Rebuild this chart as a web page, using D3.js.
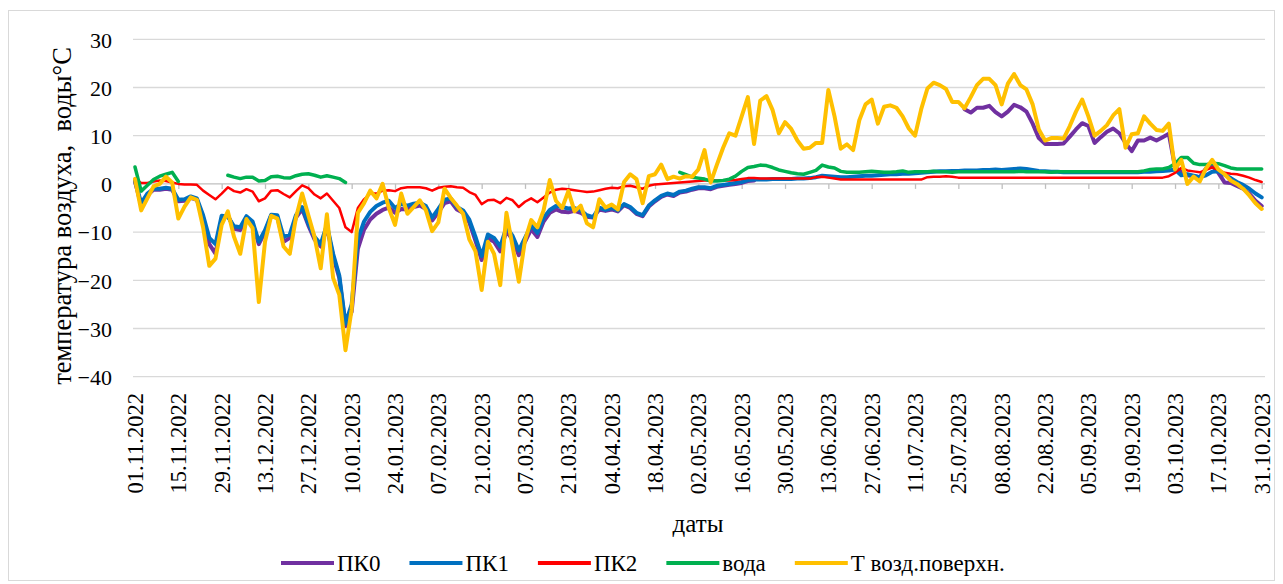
<!DOCTYPE html>
<html>
<head>
<meta charset="utf-8">
<script src="https://cdn.jsdelivr.net/npm/d3@7"></script>
<style>
  body { margin: 0; background: #fff; }
</style>
</head>
<body>
<svg id="chart" width="1283" height="584"></svg>
<script>
// readings every 2 days from 01.11.2022 (last point = 31.10.2023)
const startDate = "2022-11-01";
const stepDays = 2;
const lastDay = 364;

const seriesNames = ["ПК0", "ПК1", "ПК2", "вода", "Т возд.поверхн."];
const seriesColors = ["#7030A0", "#0070C0", "#FF0000", "#00B050", "#FFC000"];

const pk0 = [
  0.5, -4.5, -2.3, -1.2, -1.2, -1, -1.2, -3.6, -3.5, -2.9,
  -3.3, -7, -12.5, -14.5, -7.2, -6.5, -9.3, -9.6, -7, -8.3,
  -12.5, -10, -6.6, -6.9, -12, -11.2, -7, -5.2, -8.6, -11.5,
  -13, -9, -15, -19.5, -29.5, -26.5, -13.5, -9.5, -7.4, -6.2,
  -5.4, -4.9, -6, -5.2, -5.3, -4.8, -4.5, -5.2, -7.6, -5.9,
  -4, -3.6, -5.3, -6, -8, -11.8, -15.8, -11.3, -12, -14,
  -9.8, -11.6, -14.8, -12, -9.4, -11, -7.8, -6, -5.3, -5.8,
  -5.9, -5.6, -6, -6.8, -7, -5.3, -5.6, -5.3, -5.7, -4.4,
  -5, -6.2, -6.7, -4.7, -3.6, -2.7, -2.2, -2.5, -1.8, -1.6,
  -1.2, -0.9, -0.9, -1.1, -0.6, -0.4, -0.2, 0, 0.2, 0.6,
  0.7, null, null, null, null, null, null, null, null, null,
  null, null, null, null, null, null, null, null, null, null,
  null, null, null, null, null, null, null, null, null, null,
  null, null, null, null, 15.5, 14.8, 15.8, 15.8, 16.2, 14.9,
  14, 15, 16.4, 15.9, 15, 12.5, 9.5, 8.3, 8.3, 8.3,
  8.4, 9.8, 11.3, 12.6, 12, 8.5, 9.7, 10.8, 11.5, 10.5,
  8.5, 6.8, 9, 9, 9.6, 9, 9.7, 10.4, 3.5, 2.5,
  1.8, 1.6, 1.4, 3.2, 3.8, 2.3, 0.3, 0.2, -0.4, -1,
  -2, -3.5, -4.6
];

const pk1 = [
  0.7, -4, -2, -1, -1, -0.8, -1, -3.3, -3.2, -2.6,
  -3, -6.5, -11.2, -12.5, -6.6, -6.8, -8.8, -9, -6.7, -7.8,
  -12, -9.6, -6.4, -6.5, -11, -10.5, -6.5, -4.8, -8.2, -11,
  -12.5, -8.5, -14.5, -19, -29, -25, -11.5, -7.8, -5.8, -4.6,
  -3.9, -3.5, -5, -4.2, -4.5, -4.1, -3.9, -4.6, -7, -5.2,
  -3.3, -3, -4.8, -5.5, -7.4, -11, -15, -10.5, -11.2, -13,
  -9, -10.8, -13.8, -11.2, -8.6, -10.2, -7, -5.4, -4.6, -4.8,
  -5.1, -5, -5.5, -6.5, -6.9, -4.9, -5.4, -5, -5.5, -4.2,
  -4.8, -6, -6.5, -4.5, -3.4, -2.5, -2, -2.3, -1.6, -1.4,
  -1, -0.7, -0.7, -0.9, -0.4, -0.2, 0, 0.2, 0.4, 0.8,
  0.9, 0.9, 0.9, 1, 1, 1, 1, 1.1, 1.1, 1.2,
  1.4, 1.7, 1.6, 1.5, 1.4, 1.4, 1.5, 1.6, 1.7, 1.7,
  1.8, 1.9, 2, 2, 2.1, 2.1, 2.2, 2.3, 2.4, 2.5,
  2.6, 2.6, 2.7, 2.7, 2.8, 2.8, 2.8, 2.9, 2.9, 3,
  2.9, 3, 3.1, 3.2, 3.1, 2.9, 2.7, 2.6, 2.5, 2.5,
  2.4, 2.4, 2.4, 2.4, 2.4, 2.4, 2.4, 2.4, 2.4, 2.4,
  2.4, 2.4, 2.4, 2.5, 2.5, 2.6, 2.7, 2.8, 3, 1.8,
  2, 1.7, 1.4, 1.8, 2.5, 2.6, 1.9, 1.2, 0.4, -0.2,
  -1, -2, -2.8
];

const pk2 = [
  1.1, 0.2, 0.2, 0.5, 0.7, 0.6, 0.3, 0, -0.1, -0.1,
  -0.2, -1.4, -2.3, -3.2, -2, -0.7, -1.5, -1.8, -1.1, -1.6,
  -3.6, -3, -1.4, -1.3, -2.1, -2.8, -1.5, -0.3, -0.9, -2.2,
  -3, -2, -3.5, -5, -9, -10, -5, -3.2, -2, -2,
  -1.4, -1.3, -1.5, -0.9, -0.7, -0.7, -0.7, -0.9, -1.4, -0.8,
  -0.6, -0.5, -0.7, -0.8, -1.7, -2.3, -4.2, -3.4, -3.3, -4,
  -2.9, -3.4, -4.8, -3.7, -3, -3.8, -2.8, -1.8, -1.2, -1,
  -1.1, -1.3, -1.5, -1.7, -1.6, -1.3, -1, -0.8, -0.9, -0.5,
  -0.4, -0.7, -1, -0.4, -0.1, 0, 0.1, 0.2, 0.3, 0.4,
  0.5, 0.6, 0.7, 0.7, 0.7, 0.7, 0.7, 0.8, 1, 1.2,
  1.2, 1.1, 1.1, 1.1, 1.1, 1.1, 1.1, 1.1, 1.1, 1.1,
  1.4, 1.5, 1.3, 1.1, 0.9, 0.9, 0.9, 0.9, 0.9, 0.9,
  0.9, 0.9, 0.9, 0.9, 0.9, 0.9, 0.9, 0.9, 1.4, 1.5,
  1.5, 1.6, 1.5, 1.3, 1.3, 1.3, 1.3, 1.3, 1.3, 1.3,
  1.3, 1.3, 1.3, 1.3, 1.3, 1.3, 1.3, 1.3, 1.3, 1.3,
  1.3, 1.3, 1.3, 1.3, 1.3, 1.3, 1.3, 1.3, 1.3, 1.3,
  1.3, 1.3, 1.3, 1.3, 1.3, 1.3, 1.3, 1.6, 2.3, 3.3,
  2.8, 2.6, 2.4, 2.9, 3.4, 2.9, 2.3, 2.1, 2, 1.7,
  1.3, 0.8, 0.4
];

const water = [
  3.5, -1.5, -0.3, 0.9, 1.6, 2, 2.4, 0.5, null, null,
  null, null, null, null, null, 1.8, 1.4, 1.1, 1.4, 1.4,
  0.6, 0.7, 1.5, 1.6, 1.3, 1.2, 1.7, 2, 2.1, 1.8,
  1.4, 1.7, 1.4, 1.1, 0.3, null, null, null, null, null,
  null, null, null, null, null, null, null, null, null, null,
  null, null, null, null, null, null, null, null, null, null,
  null, null, null, null, null, null, null, null, null, null,
  null, null, null, null, null, null, null, null, null, null,
  null, null, null, null, null, null, null, null, 2.4, 1.9,
  1.4, 1.2, 1, 0.6, 0.6, 0.7, 1, 1.6, 2.6, 3.4,
  3.6, 3.9, 3.8, 3.4, 2.9, 2.6, 2.3, 2.1, 2, 2.4,
  2.8, 3.9, 3.5, 3.3, 2.6, 2.4, 2.4, 2.4, 2.5, 2.6,
  2.5, 2.4, 2.4, 2.5, 2.7, 2.4, 2.5, 2.5, 2.5, 2.6,
  2.5, 2.5, 2.4, 2.5, 2.5, 2.5, 2.5, 2.5, 2.5, 2.5,
  2.5, 2.5, 2.5, 2.6, 2.5, 2.5, 2.5, 2.5, 2.4, 2.5,
  2.5, 2.5, 2.5, 2.5, 2.5, 2.5, 2.5, 2.5, 2.5, 2.5,
  2.5, 2.5, 2.5, 2.7, 3, 3.1, 3.1, 3.4, 4.2, 5.5,
  5.5, 4.3, 4, 4, 4.3, 4.2, 3.8, 3.3, 3.1, 3.1,
  3.1, 3.1, 3.1
];

const airSurface = [
  1.0, -5.5, -3, -0.5, 0, 1.5, 0.3, -7.2, -4.7, -2.8,
  -3.3, -9, -17, -15.5, -8.5, -5.7, -11, -14.5, -7.3, -9.2,
  -24.5, -12, -6.6, -7.2, -13, -14.5, -7, -2, -6.5, -11,
  -17.5, -6.3, -19.5, -23, -34.5, -26, -6, -4, -1.4, -3,
  0, -5, -8.5, -2, -6.2, -4.8, -3.4, -5.5, -9.8, -8,
  -1, -2.9, -4.5, -6.2, -11.5, -14, -22, -12, -14.5, -21,
  -6, -13, -20.3, -11.7, -7.5, -9, -5.5, 0.8, -3.5, -5,
  -1.5, -5.7, -4.5, -8.2, -9, -3.2, -4.9, -4.3, -5.3, 0.4,
  2, 1, -4, 1.6, 2, 4, 1, 1.5, 1.1, 1.6,
  1.5, 3, 7, 0.3, 4, 7.5, 10.5, 10, 14, 18,
  8.3, 17.3, 18.2, 15.3, 10.5, 12.8, 11.4, 9, 7.3, 7.5,
  8.5, 8.5, 19.5, 14, 7.3, 8.2, 7, 13.2, 16.5, 17.5,
  12.5, 16, 16.3, 15.8, 14, 11.5, 10, 15.5, 19.8, 21,
  20.5, 19.7, 17, 17, 15.7, 18, 20.5, 21.8, 21.8, 20.5,
  16.5, 20.8, 22.8, 20.5, 19.6, 16.5, 11.3, 9, 9.5, 9.5,
  9.4, 12, 15, 17.5, 14, 10, 11, 12.2, 14.2, 15.5,
  7.5, 10.3, 10.5, 14, 12.5, 11.2, 11, 12.5, 3, 5,
  0, 1.5, 0.5, 3.2, 5, 3, 2, 0.7, 0, -1,
  -2.4, -4, -5.2
];

const seriesValues = [pk0, pk1, pk2, water, airSurface];
const yTicks = [-40, -30, -20, -10, 0, 10, 20, 30];
const xTickStep = 14;
const yTitle = "температура воздуха,  воды°С";
const xTitle = "даты";

const serif = '"Liberation Serif"';

const start = d3.utcParse("%Y-%m-%d")(startDate);
const end = d3.utcDay.offset(start, lastDay);
const dates = airSurface.map((_, i) => d3.utcDay.offset(start, Math.min(i * stepDays, lastDay)));

const svg = d3.select("#chart");

// chart frame
svg.append("rect")
  .attr("x", 8.5).attr("y", 10.5)
  .attr("width", 1266).attr("height", 570)
  .attr("fill", "#fff").attr("stroke", "#d9d9d9");

const x = d3.scaleUtc().domain([start, end]).range([135, 1261.7]);
const y = d3.scaleLinear().domain([-40, 30]).range([376.7, 39.3]);
const gridLeft = 133, gridRight = 1265;

// horizontal gridlines
svg.append("g")
  .selectAll("line")
  .data(yTicks.filter(v => v !== 0))
  .join("line")
  .attr("x1", gridLeft).attr("x2", gridRight)
  .attr("y1", d => y(d)).attr("y2", d => y(d))
  .attr("stroke", "#d9d9d9").attr("stroke-width", 1.3);

// y axis labels
const yAxis = d3.axisLeft(y).tickValues(yTicks).tickSize(0).tickPadding(0);
const gy = svg.append("g").attr("transform", "translate(112,0)").call(yAxis);
gy.attr("font-family", null).attr("font-size", null);
gy.select(".domain").remove();
gy.selectAll("text")
  .attr("dy", "0.35em")
  .style("font-family", serif)
  .style("font-size", "22px")
  .style("fill", "#000");

// horizontal axis at zero with ticks
const xTicks = d3.utcDay.range(start, d3.utcDay.offset(end, 1), xTickStep);
const xAxis = d3.axisBottom(x).tickValues(xTicks).tickSize(5).tickFormat("");
const gx = svg.append("g").attr("transform", `translate(0,${y(0)})`).call(xAxis);
gx.select(".domain").attr("d", `M${gridLeft},0H${gridRight}`).attr("stroke", "#bfbfbf").attr("stroke-width", 1.3);
gx.selectAll(".tick line").attr("stroke", "#bfbfbf").attr("stroke-width", 1.3);

// date labels below plot
const fmt = d3.utcFormat("%d.%m.%Y");
svg.append("g")
  .selectAll("text")
  .data(xTicks)
  .join("text")
  .attr("transform", d => `translate(${x(d)},393) rotate(-90)`)
  .attr("text-anchor", "end")
  .attr("dy", "0.35em")
  .style("font-family", serif)
  .style("font-size", "22.5px")
  .text(d => fmt(d));

// series lines
const line = d3.line()
  .defined(d => d.v != null)
  .x(d => x(d.date))
  .y(d => y(d.v));
const widths = [4, 4, 2.5, 3.5, 4];

seriesValues.forEach((vals, s) => {
  const pts = vals.map((v, i) => ({ date: dates[i], v: v }));
  svg.append("path")
    .datum(pts)
    .attr("d", line)
    .attr("fill", "none")
    .attr("stroke", seriesColors[s])
    .attr("stroke-width", widths[s])
    .attr("stroke-linejoin", "round")
    .attr("stroke-linecap", "round");
});

// axis titles
svg.append("text")
  .attr("transform", "translate(71,216) rotate(-90)")
  .attr("text-anchor", "middle")
  .style("font-family", serif)
  .style("font-size", "26.5px")
  .style("white-space", "pre")
  .text(yTitle);

svg.append("text")
  .attr("x", 698).attr("y", 532)
  .attr("text-anchor", "middle")
  .style("font-family", serif)
  .style("font-size", "25px")
  .text(xTitle);

// legend
const legend = svg.append("g");
let lx = 281;
seriesNames.forEach((name, s) => {
  legend.append("line")
    .attr("x1", lx).attr("x2", lx + 53)
    .attr("y1", 563).attr("y2", 563)
    .attr("stroke", seriesColors[s])
    .attr("stroke-width", 4);
  const t = legend.append("text")
    .attr("x", lx + 56).attr("y", 571)
    .style("font-family", serif)
    .style("font-size", "23px")
    .text(name);
  lx += 56 + t.node().getComputedTextLength() + 29;
});
</script>
</body>
</html>
